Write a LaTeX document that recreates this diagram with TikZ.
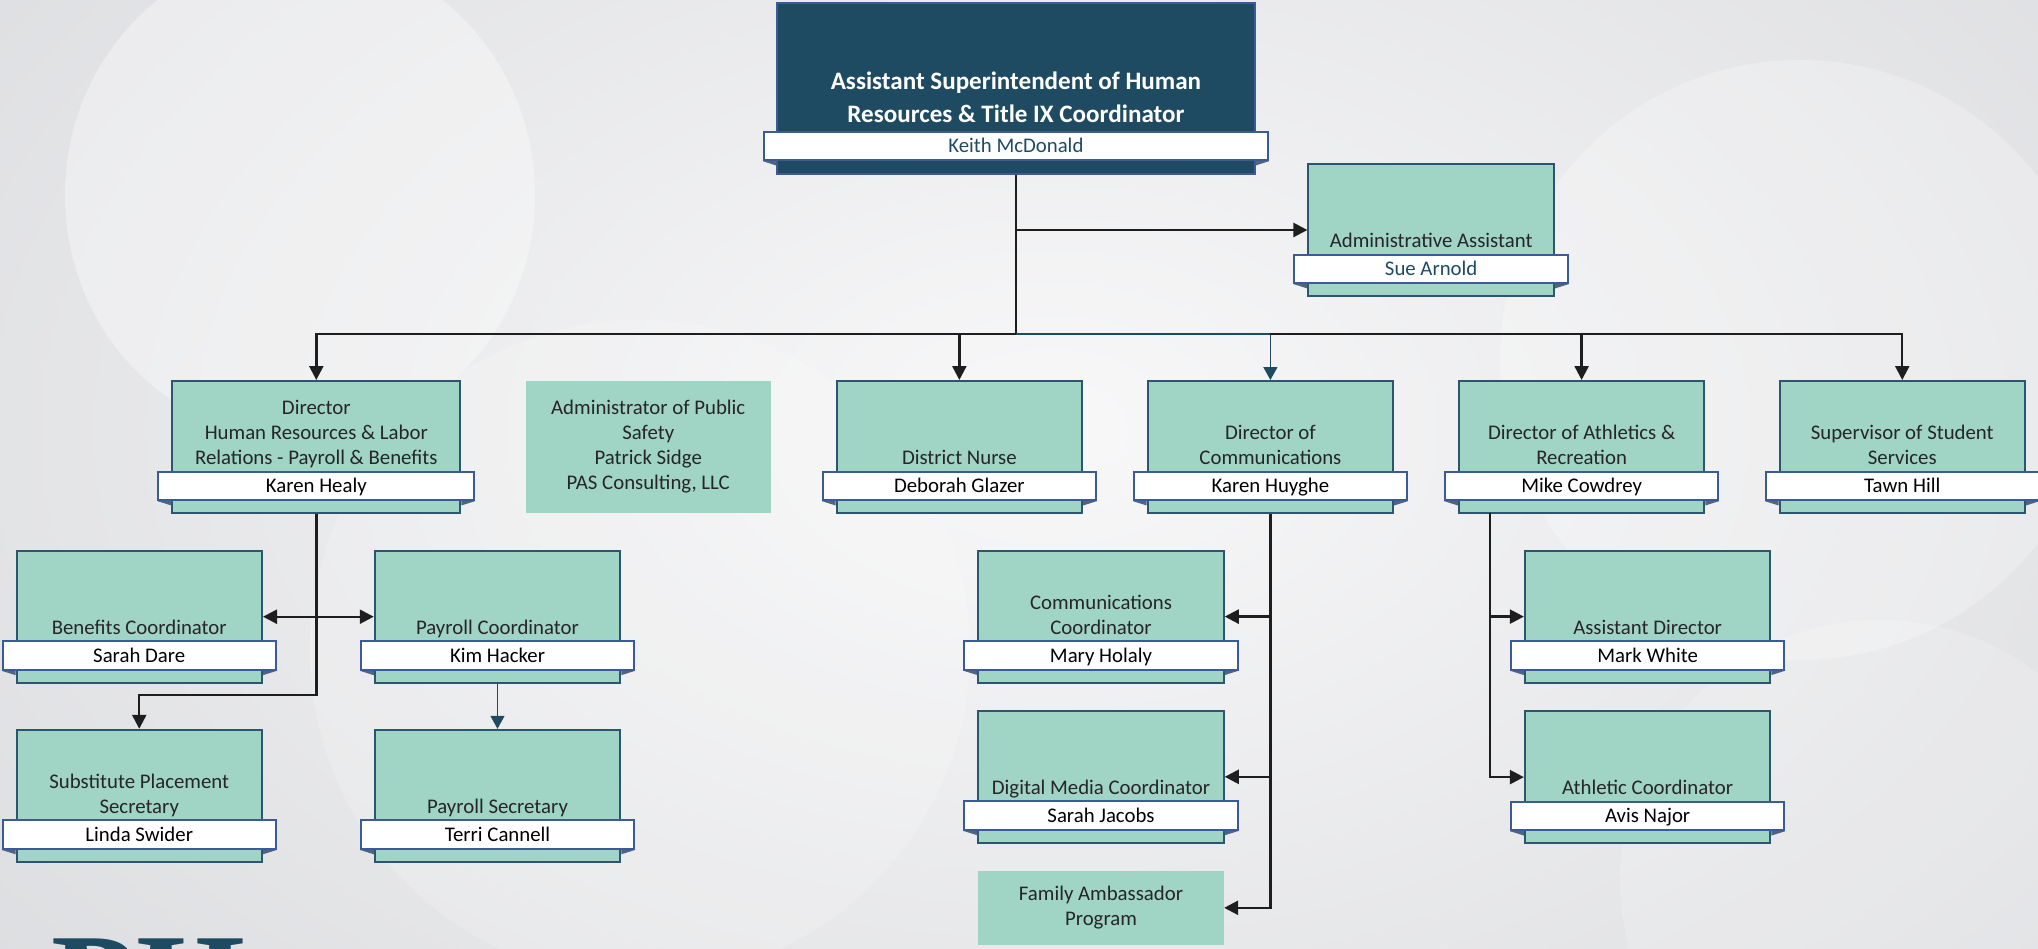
\documentclass[tikz,border=0pt]{standalone}
\usepackage{fontspec}
\setmainfont{Carlito}
\newfontfamily\logofont{Liberation Serif}
\usetikzlibrary{arrows.meta, calc}

\definecolor{mint}{HTML}{A0D4C4}
\definecolor{boxline}{HTML}{2B5570}
\definecolor{topfill}{HTML}{1F4B62}
\definecolor{bandline}{HTML}{3A5A98}
\definecolor{foldcol}{HTML}{4E6480}
\definecolor{txt}{HTML}{262626}
\definecolor{linecol}{HTML}{1E1E1E}
\definecolor{bgbase}{HTML}{DADBDE}
\definecolor{bglight}{HTML}{F8F8F9}

\begin{document}
\begin{tikzpicture}[
   x=0.5pt, y=-0.5pt,
   role/.style={draw=boxline, fill=mint, line width=1pt, minimum width=122.75pt,
                minimum height=66pt, inner sep=0pt},          % position boxes
   plain/.style={fill=mint, minimum width=122.75pt, inner sep=0pt, align=center,
                 font={\fontsize{10.4}{12.5}\selectfont}, text=txt},
   nameband/.style={draw=bandline, fill=white, line width=1pt, minimum width=136.75pt,
                    minimum height=14.25pt, inner sep=0pt, text height=6.7pt, text depth=0pt,
                    font={\fontsize{10.4}{12.5}\selectfont}, text=black},
   title/.style={anchor=south, align=center, inner sep=0pt, text depth=0pt,
                 font={\fontsize{10.4}{12.5}\selectfont}, text=txt},
   wire/.style={line width=1.2pt, draw=linecol},
   link/.style={-{Triangle[length=7pt,width=7pt]}, line width=1.2pt, draw=linecol},
   dlink/.style={{Triangle[length=7pt,width=7pt]}-{Triangle[length=7pt,width=7pt]},
                 line width=1.2pt, draw=linecol},
   tlink/.style={-{Triangle[length=6.5pt,width=7pt]}, line width=0.75pt, draw=topfill},
   fold/.style={fill=foldcol}
]

\useasboundingbox (0,0) rectangle (2038,948);

% --- background
\fill[bgbase] (0,0) rectangle (2038,948);
\shade[inner color=bglight, outer color=bgbase] (1050,430) ellipse [x radius=1500, y radius=950];
\fill[white, opacity=0.35] (300,195) ellipse [x radius=235, y radius=245];
\fill[white, opacity=0.25] (1800,360) circle [radius=300];
\fill[white, opacity=0.18] (640,650) circle [radius=330];
\fill[white, opacity=0.18] (1880,880) circle [radius=260];

\begin{scope}
\clip (0,0) rectangle (2038,948);
\node[anchor=base west, inner sep=0pt, font={\logofont\bfseries\fontsize{70}{70}\selectfont},
      text=topfill] (logo) at (51,1030) {PH};
\end{scope}

% --- top of the chart
\node[draw=bandline, fill=topfill, line width=1pt, minimum width=238.6pt,
      minimum height=85.35pt, inner sep=0pt] (mcdonald) at (1015.9,88.7) {};
\node[nameband, minimum width=252.3pt, text=topfill] (mcdonald-band)
      at ([yshift=14.6pt]mcdonald.south) {Keith McDonald};
\node[title, text=white, font={\bfseries\fontsize{12.55}{16.5}\selectfont}]
      at ([yshift=3.85pt]mcdonald-band.north)
      {Assistant Superintendent of Human\\Resources \& Title IX Coordinator};

\node[role] (arnold) at (1431.15,230) {};
\node[nameband, text=topfill] (arnold-band) at ([yshift=14.1pt]arnold.south) {Sue Arnold};
\node[title] at ([yshift=2.85pt]arnold-band.north) {Administrative Assistant};

% --- first row
\node[role, minimum width=144pt] (healy) at (316.3,447) {};
\node[nameband, minimum width=158pt] (healy-band) at ([yshift=14.1pt]healy.south) {Karen Healy};
\node[title] at ([yshift=2.85pt]healy-band.north)
      {Director\\Human Resources \& Labor\\Relations - Payroll \& Benefits};

\node[plain, minimum height=66pt] (sidge) at (648.25,447)
      {Administrator of Public\\Safety\\Patrick Sidge\\PAS Consulting, LLC};

\node[role] (glazer) at (959.35,447) {};
\node[nameband] (glazer-band) at ([yshift=14.1pt]glazer.south) {Deborah Glazer};
\node[title] at ([yshift=2.85pt]glazer-band.north) {District Nurse};

\node[role] (huyghe) at (1270.4,447) {};
\node[nameband] (huyghe-band) at ([yshift=14.1pt]huyghe.south) {Karen Huyghe};
\node[title] at ([yshift=2.85pt]huyghe-band.north) {Director of\\Communications};

\node[role] (cowdrey) at (1581.6,447) {};
\node[nameband] (cowdrey-band) at ([yshift=14.1pt]cowdrey.south) {Mike Cowdrey};
\node[title] at ([yshift=2.85pt]cowdrey-band.north) {Director of Athletics \&\\Recreation};

\node[role] (hill) at (1902.25,447) {};
\node[nameband] (hill-band) at ([yshift=14.1pt]hill.south) {Tawn Hill};
\node[title] at ([yshift=2.85pt]hill-band.north) {Supervisor of Student\\Services};

% --- human resources staff
\node[role] (dare) at (139.25,616.7) {};
\node[nameband] (dare-band) at ([yshift=14.1pt]dare.south) {Sarah Dare};
\node[title] at ([yshift=2.85pt]dare-band.north) {Benefits Coordinator};

\node[role] (hacker) at (497.5,616.7) {};
\node[nameband] (hacker-band) at ([yshift=14.1pt]hacker.south) {Kim Hacker};
\node[title] at ([yshift=2.85pt]hacker-band.north) {Payroll Coordinator};

\node[role] (swider) at (139.25,795.8) {};
\node[nameband] (swider-band) at ([yshift=14.1pt]swider.south) {Linda Swider};
\node[title] at ([yshift=2.85pt]swider-band.north) {Substitute Placement\\Secretary};

\node[role] (cannell) at (497.5,795.8) {};
\node[nameband] (cannell-band) at ([yshift=14.1pt]cannell.south) {Terri Cannell};
\node[title] at ([yshift=2.85pt]cannell-band.north) {Payroll Secretary};

% --- communications staff
\node[role] (holaly) at (1101,616.6) {};
\node[nameband] (holaly-band) at ([yshift=14.1pt]holaly.south) {Mary Holaly};
\node[title] at ([yshift=2.85pt]holaly-band.north) {Communications\\Coordinator};

\node[role] (jacobs) at (1101,776.8) {};
\node[nameband] (jacobs-band) at ([yshift=14.1pt]jacobs.south) {Sarah Jacobs};
\node[title] at ([yshift=2.85pt]jacobs-band.north) {Digital Media Coordinator};

\node[plain, minimum height=37pt] (ambassador) at (1101,907.8) {Family Ambassador\\Program};

% --- athletics staff
\node[role] (markwhite) at (1647.6,616.6) {};
\node[nameband] (markwhite-band) at ([yshift=14.1pt]markwhite.south) {Mark White};
\node[title] at ([yshift=2.85pt]markwhite-band.north) {Assistant Director};

\node[role] (najor) at (1647.6,777.1) {};
\node[nameband] (najor-band) at ([yshift=14.1pt]najor.south) {Avis Najor};
\node[title] at ([yshift=2.85pt]najor-band.north) {Athletic Coordinator};

% --- little folds under the name bands
\foreach \p in {mcdonald, arnold, healy, glazer, huyghe, cowdrey, hill, dare, hacker,
                swider, cannell, holaly, jacobs, markwhite, najor} {
  \fill[fold] (\p-band.south west) -- (\p-band.south west -| \p.west)
              -- ($(\p-band.south west -| \p.west)+(0,4.4)$) -- cycle;
  \fill[fold] (\p-band.south east) -- (\p-band.south east -| \p.east)
              -- ($(\p-band.south east -| \p.east)+(0,4.4)$) -- cycle;
}

% --- connectors
\coordinate (bus) at (1015.9,333.8);
\coordinate (asst-tap) at (1015.9,230);
\coordinate (comm-tap) at (1270.4,333.8);
\coordinate (healy-turn) at (316.3,695);
\coordinate (athl) at (1490.2,512.8);

\draw[wire] (mcdonald) -- (bus);
\draw[link] (asst-tap) -- (arnold);
\draw[link] (bus) -| (healy);
\draw[link] (bus) -| (glazer);
\draw[tlink] (bus) -| (huyghe);
\draw[link] (comm-tap) -| (cowdrey);
\draw[link] (comm-tap) -| (hill);

\draw[link] (healy) -- (healy-turn) -| (swider);
\draw[dlink] (dare) -- (hacker);
\draw[tlink] (hacker) -- (cannell);

\draw[link] (huyghe) |- (holaly);
\draw[link] (huyghe) |- (jacobs);
\draw[link] (huyghe) |- (ambassador);

\draw[link] (athl) |- (markwhite);
\draw[link] (athl) |- (najor);

\end{tikzpicture}
\end{document}
